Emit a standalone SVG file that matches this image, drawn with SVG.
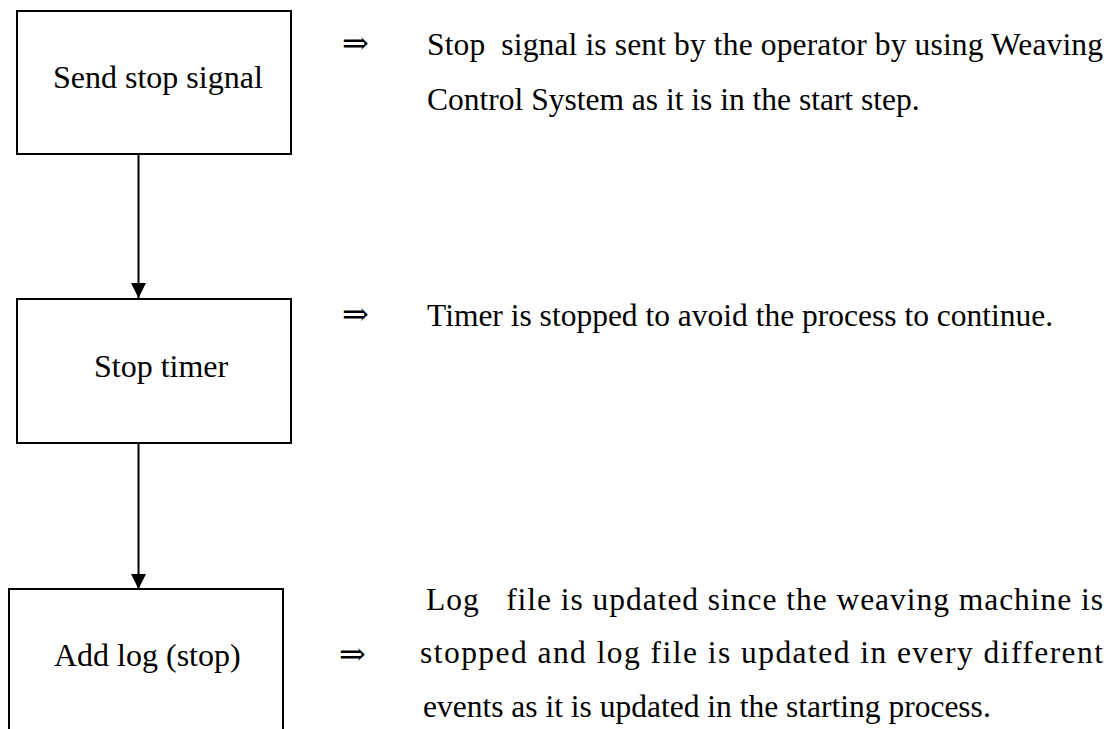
<svg xmlns="http://www.w3.org/2000/svg" width="1118" height="729" viewBox="0 0 1118 729">
<defs>
<style>
.box{fill:#fff;stroke:#000;stroke-width:2}
.lbl{font-family:"Liberation Serif","Times New Roman",serif;font-size:32px;fill:#000}
.txt{font-family:"Liberation Serif","Times New Roman",serif;font-size:31.5px;fill:#000;white-space:pre}
.arr{font-family:"DejaVu Serif","DejaVu Sans",serif;font-size:32px;fill:#000}
.conn{stroke:#000;stroke-width:2;fill:none}
</style>
<marker id="ah" viewBox="0 0 15 15" refX="15" refY="7.5" markerWidth="15" markerHeight="15" markerUnits="userSpaceOnUse" orient="auto">
<path d="M0,0 L15,7.5 L0,15 Z" fill="#000"/>
</marker>
</defs>
<rect width="1118" height="729" fill="#fff"/>
<g id="connectors">
<line class="conn" x1="138.5" y1="154" x2="138.5" y2="298" marker-end="url(#ah)"/>
<line class="conn" x1="138.5" y1="443" x2="138.5" y2="589" marker-end="url(#ah)"/>
</g>
<g id="node-send">
<rect class="box" x="17" y="11" width="274" height="143"/>
<text class="lbl" x="53" y="88">Send stop signal</text>
</g>
<g id="node-timer">
<rect class="box" x="17" y="299" width="274" height="144"/>
<text class="lbl" x="94" y="377">Stop timer</text>
</g>
<g id="node-log">
<path class="box" d="M9,740 V589 H283 V740"/>
<text class="lbl" x="54" y="666">Add log (stop)</text>
</g>
<g id="desc-send">
<text class="arr" x="342" y="54">⇒</text>
<text class="txt" x="427" y="55" textLength="676" lengthAdjust="spacing">Stop  signal is sent by the operator by using Weaving</text>
<text class="txt" x="427" y="110">Control System as it is in the start step.</text>
</g>
<g id="desc-timer">
<text class="arr" x="342" y="325">⇒</text>
<text class="txt" x="427" y="326">Timer is stopped to avoid the process to continue.</text>
</g>
<g id="desc-log">
<text class="arr" x="339" y="665">⇒</text>
<text class="txt" x="426" y="610" textLength="677" lengthAdjust="spacing">Log   file is updated since the weaving machine is</text>
<text class="txt" x="420" y="663" textLength="683" lengthAdjust="spacing">stopped and log file is updated in every different</text>
<text class="txt" x="423" y="717">events as it is updated in the starting process.</text>
</g>
</svg>
